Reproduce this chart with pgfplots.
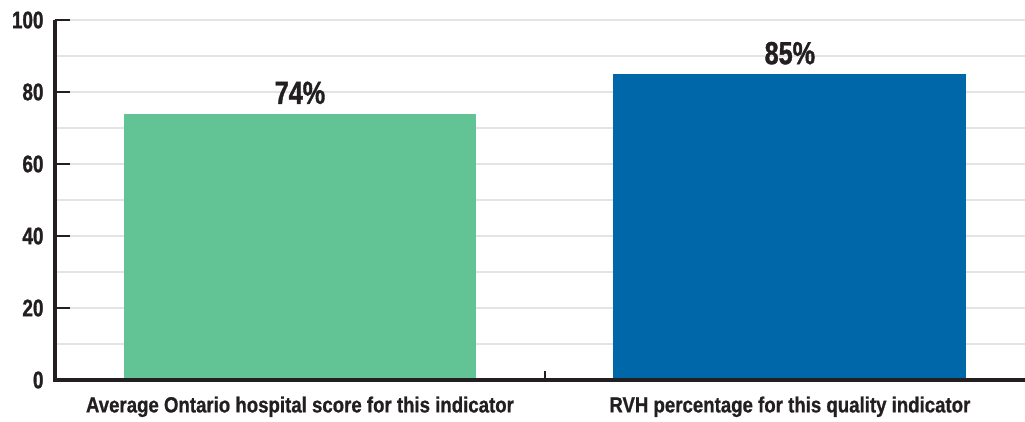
\documentclass[border=0pt]{standalone}
\usepackage{fontspec}
\setmainfont{Liberation Sans}
\newfontfamily\numfont[FakeStretch=0.79, BoldFeatures={FakeBold=1.2}]{Liberation Sans}
\newfontfamily\xlabfont[FakeStretch=0.85, BoldFeatures={FakeBold=0.8}]{Liberation Sans}
\usepackage{pgfplots}
\pgfplotsset{compat=1.18}
\definecolor{barG}{HTML}{62C395}
\definecolor{barB}{HTML}{0067A8}
\definecolor{axc}{HTML}{231F20}
\definecolor{gridc}{HTML}{E4E4E4}
\begin{document}
\begin{tikzpicture}
\begin{axis}[name=ax, scale only axis, width=970bp, height=360bp,
  xmin=-0.5, xmax=1.48, ymin=0, ymax=100,
  axis line style={draw=none},
  xtick pos=bottom, ytick pos=left,
  ytick={0,20,...,100}, minor ytick={10,30,...,90},
  ymajorgrids, yminorgrids,
  major grid style={gridc, line width=1.4bp},
  minor grid style={gridc, line width=1.4bp},
  tick align=inside, major tick length=15bp, minor tick length=0pt,
  ytick style={draw=axc, line width=2.6bp},
  extra y ticks={0,20,40,60,80,100}, extra y tick labels={},
  extra y tick style={major tick length=15bp, tick align=inside, ytick style={draw=axc, line width=2.6bp}},
  xtick={0,1}, xticklabels={Average Ontario hospital score for this indicator, RVH percentage for this quality indicator},
  xtick style={draw=none},
  extra x ticks={0.5}, extra x tick labels={},
  extra x tick style={major tick length=9bp, xtick style={draw=axc, line width=2bp}},
  /pgf/number format/assume math mode=true,
  yticklabel style={font=\numfont\bfseries\fontsize{24}{24}\selectfont, text=axc, xshift=-8bp},
  xticklabel style={font=\xlabfont\bfseries\fontsize{22}{22}\selectfont, text=axc, yshift=-13bp},
  clip=false,
]
\addplot[ybar, bar width=0.72, bar shift=0pt, fill=barG, draw=none,
  nodes near coords={\pgfmathprintnumber{\pgfplotspointmeta}\%},
  every node near coord/.append style={font=\numfont\bfseries\fontsize{32}{32}\selectfont, text=axc, yshift=6bp}]
  coordinates {(0,74)};
\addplot[ybar, bar width=0.72, bar shift=0pt, fill=barB, draw=none,
  nodes near coords={\pgfmathprintnumber{\pgfplotspointmeta}\%},
  every node near coord/.append style={font=\numfont\bfseries\fontsize{32}{32}\selectfont, text=axc, yshift=6bp}]
  coordinates {(1,85)};
\draw[axc, line width=3.2bp] (rel axis cs:0,1) -- (rel axis cs:0,0) -- (rel axis cs:1,0);
\end{axis}
\pgfresetboundingbox
\path ([xshift=-55bp,yshift=-42bp]ax.south west) rectangle ([yshift=20bp]ax.north east);
\end{tikzpicture}
\end{document}
